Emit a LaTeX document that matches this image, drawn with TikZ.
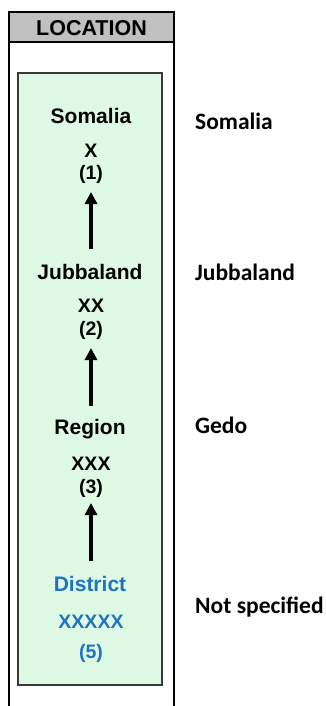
\documentclass[tikz,border=0pt]{standalone}
\usepackage{fontspec}
\setmainfont{Liberation Sans}
\newfontfamily\calib{Carlito}
\usetikzlibrary{arrows.meta}
\definecolor{hdrgray}{HTML}{C0C0C0}
\definecolor{boxgreen}{HTML}{DFFAE4}
\definecolor{boxedge}{HTML}{3A3A3A}
\definecolor{distblue}{HTML}{1F73C4}
\tikzset{
  lvl/.style={font=\fontsize{21}{24}\selectfont\bfseries, inner sep=0pt, anchor=center},
  code/.style={font=\fontsize{19.5}{22}\selectfont\bfseries, inner sep=0pt, anchor=center},
  blue/.style={text=distblue},
  side/.style={font=\calib\fontsize{23.5}{26}\selectfont\bfseries, inner sep=0pt, anchor=west},
  arr/.style={line width=3.5pt, -{Triangle[width=12pt,length=12pt]}},
}
\begin{document}
\begin{tikzpicture}[x=1pt,y=-1pt]
\useasboundingbox (0,0) rectangle (325,706);
% outer column
\fill[hdrgray] (9,12) rectangle (174,42);
\draw[line width=2pt] (9,706) -- (9,12) -- (174,12) -- (174,706);
\draw[line width=2pt] (9,42) -- (174,42);
\node[font=\fontsize{21.5}{24}\selectfont\bfseries, inner sep=0pt] (hdr) at (91.5,28) {LOCATION};
% green box
\draw[fill=boxgreen, draw=boxedge, line width=1.5pt] (18,73) rectangle (162,685);
% level 1
\node[lvl] (somalia) at (91,116) {Somalia};
\node[code] (x1) at (91,151) {X};
\node[code] (n1) at (91,174) {(1)};
% level 2
\node[lvl] (jubba) at (90,272) {Jubbaland};
\node[code] (x2) at (91,306) {XX};
\node[code] (n2) at (91,330) {(2)};
% level 3
\node[lvl] (region) at (90,429) {Region};
\node[code] (x3) at (91,464) {XXX};
\node[code] (n3) at (91,488) {(3)};
% level 5
\node[lvl, blue] (district) at (90,584) {District};
\node[code, blue] (x5) at (91,622) {XXXXX};
\node[code, blue] (n5) at (91,653) {(5)};
% arrows
\coordinate (a1s) at (91,249);
\coordinate (a1e) at (91,192);
\coordinate (a2s) at (91,406);
\coordinate (a2e) at (91,348);
\coordinate (a3s) at (91,561);
\coordinate (a3e) at (91,503);
\draw[arr] (a1s) -- (a1e);
\draw[arr] (a2s) -- (a2e);
\draw[arr] (a3s) -- (a3e);
% side labels
\node[side] (s1) at (195,121) {Somalia};
\node[side] (s2) at (195,272) {Jubbaland};
\node[side] (s3) at (195,425) {Gedo};
\node[side] (s5) at (195,607) {Not specified};
\end{tikzpicture}
\end{document}
